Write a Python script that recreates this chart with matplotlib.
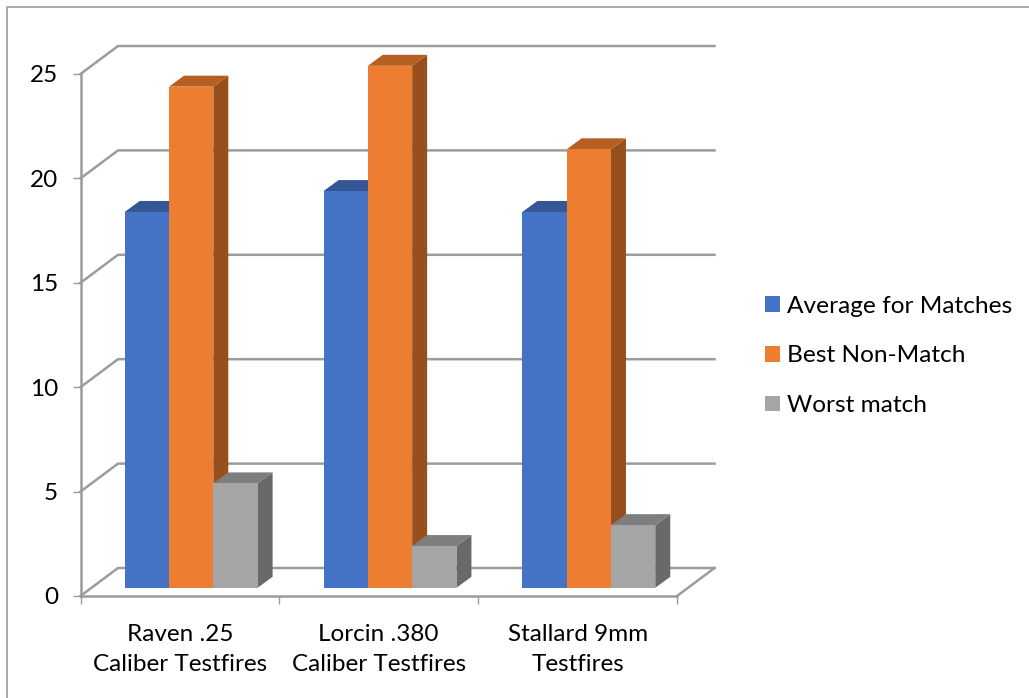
import matplotlib
matplotlib.use("Agg")
import matplotlib.pyplot as plt
from matplotlib.lines import Line2D
from matplotlib.patches import Patch, Polygon

plt.rcParams["font.family"] = ["Lato", "DejaVu Sans"]

categories = ["Raven .25\nCaliber Testfires", "Lorcin .380\nCaliber Testfires", "Stallard 9mm\nTestfires"]
average_matches = [18, 19, 18]
best_non_match = [24, 25, 21]
worst_match = [5, 2, 3]
series_names = ["Average for Matches", "Best Non-Match", "Worst match"]
yticks = [0, 5, 10, 15, 20, 25]

# front, top and side shades per series
front_colors = ["#4472C4", "#ED7D31", "#A5A5A5"]
top_colors = ["#345694", "#B65F22", "#7E7E7E"]
side_colors = ["#2E4F8A", "#97501B", "#696969"]
axis_gray = "#9C9C9C"

W, H = 1029, 698
fig = plt.figure(figsize=(W / 100, H / 100), dpi=100)

# plot box: front plane of the fake 3D chart
left, right, top, bottom = 80.5, 677, 74, 596
ax = fig.add_axes([left / W, 1 - bottom / H, (right - left) / W, (bottom - top) / H])
ax.set_xlim(0, 3)
ax.set_ylim(0, 25)
x_unit = (right - left) / 3
y_unit = (bottom - top) / 25


def px(dx, dy):
    return dx / x_unit, dy / y_unit


# back wall depth, and the floor inset / depth of the bars
wall_x, wall_y = px(37.5, 28)
bar_x, bar_y = px(44.2, 8.2)
depth_x, depth_y = px(15, 11)
bar_w = 44.3 / x_unit

for v in yticks:
    ax.plot([0, wall_x, 3 + wall_x], [v, v + wall_y, v + wall_y], color=axis_gray,
            lw=1.8, clip_on=False, zorder=1, solid_joinstyle="miter")
ax.plot([3, 3 + wall_x], [0, wall_y], color=axis_gray, lw=1.8, clip_on=False, zorder=1)

all_series = [average_matches, best_non_match, worst_match]
for s, values in enumerate(all_series):
    for i, v in enumerate(values):
        x0 = i + bar_x + s * bar_w
        x1 = x0 + bar_w
        y0 = bar_y
        y1 = bar_y + v
        z = 3 + s * 3
        side = [(x1, y0), (x1 + depth_x, y0 + depth_y), (x1 + depth_x, y1 + depth_y), (x1, y1)]
        cap = [(x0, y1), (x0 + depth_x, y1 + depth_y), (x1 + depth_x, y1 + depth_y), (x1, y1)]
        ax.add_patch(Polygon(side, closed=True, fc=side_colors[s], ec="none", clip_on=False, zorder=z))
        ax.add_patch(Polygon(cap, closed=True, fc=top_colors[s], ec="none", clip_on=False, zorder=z))
        ax.bar(x0, v, bar_w, bottom=y0, align="edge", color=front_colors[s], clip_on=False, zorder=z + 1)

ax.patch.set_visible(False)
for name in ["top", "right"]:
    ax.spines[name].set_visible(False)
for name in ["left", "bottom"]:
    ax.spines[name].set_color(axis_gray)
    ax.spines[name].set_linewidth(1.8)
    ax.spines[name].set_zorder(2)

ax.set_yticks(yticks)
ax.tick_params(axis="y", length=6, width=1, color=axis_gray, labelsize=17.5, pad=10, labelcolor="black")

# ticks sit between groups, labels in the middle of each group
ax.set_xticks([0, 1, 2, 3])
ax.set_xticklabels([])
ax.tick_params(axis="x", length=6, width=1, color=axis_gray)
ax.set_xticks([0.5, 1.5, 2.5], labels=categories, minor=True)
ax.tick_params(axis="x", which="minor", length=0, labelsize=17.5, pad=20.5, labelcolor="black")
for label in ax.get_xticklabels(minor=True):
    label.set_linespacing(1.5)

handles = [Patch(fc=c, ec="none") for c in front_colors]
fig.legend(handles, series_names, loc="center left", bbox_to_anchor=(765 / W, 1 - 356 / H),
           frameon=False, fontsize=17.6, handlelength=0.62, handleheight=0.62, handletextpad=0.29,
           labelspacing=1.17, borderpad=0, borderaxespad=0)

# thin frame around the chart area
fig.add_artist(Line2D([6.5 / W, 6.5 / W, 1], [0, 1 - 7 / H, 1 - 7 / H], color="#A8A8A8", lw=1.4))

fig.savefig("out.png", dpi=100)
